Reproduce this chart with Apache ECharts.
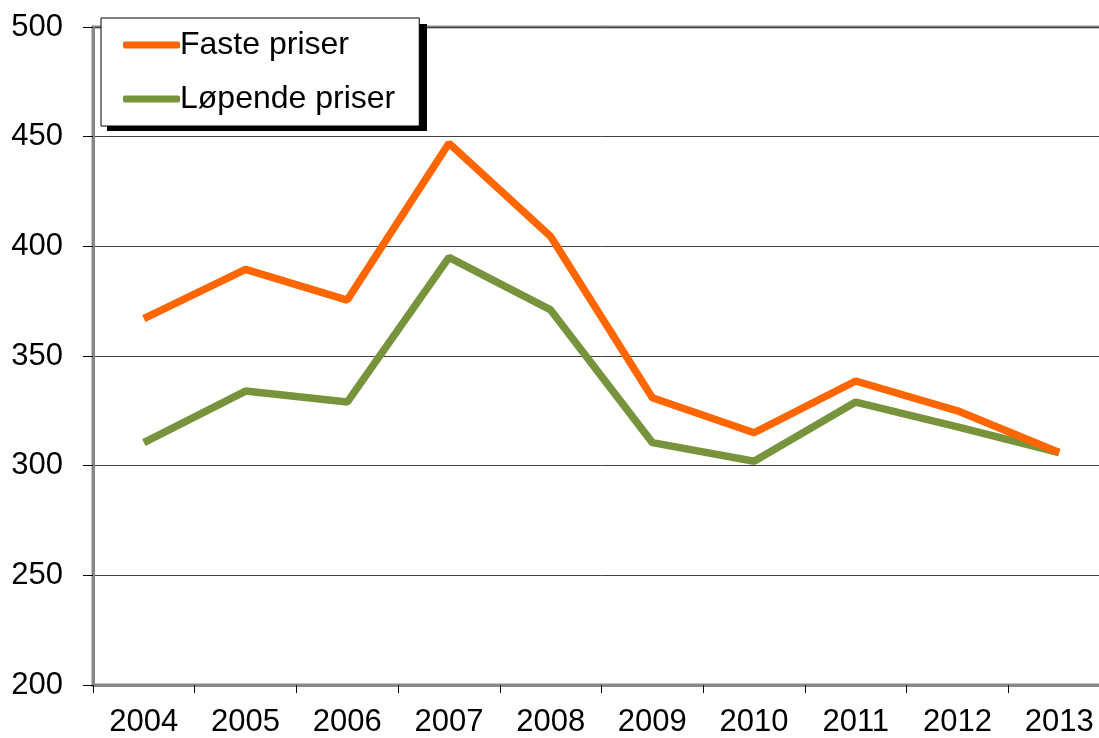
<!DOCTYPE html>
<html><head><meta charset="utf-8">
<script src="https://cdn.jsdelivr.net/npm/echarts@6/dist/echarts.min.js"></script>
<style>html,body{margin:0;padding:0;background:#fff;overflow:hidden;width:1099px;height:738px}#c{width:1110px;height:738px}</style>
</head><body><div id="c"></div>
<script>
const years = ['2004','2005','2006','2007','2008','2009','2010','2011','2012','2013'];
const fastePriser = [367, 389.5, 375.5, 447, 404.5, 331, 315, 338.6, 325, 306];
const lopendePriser = [310.5, 334, 329, 395, 371, 310.5, 302, 329, 317.7, 306];
const yTicks = [200, 250, 300, 350, 400, 450, 500];

const chart = echarts.init(document.getElementById('c'));
const font = 'Liberation Sans, Arial, sans-serif';
chart.setOption({
  animation: false,
  backgroundColor: '#fff',
  grid: { left: 93, top: 27, right: 0, bottom: 51, show: true, borderColor: '#888', borderWidth: 3, backgroundColor: 'transparent', containLabel: false },
  graphic: [
    { type: 'rect', z: 10, zlevel: 0, shape: { x: 107, y: 24, width: 320, height: 107 }, style: { fill: '#000' } }
  ],
  legend: {
    left: 101, top: 18, orient: 'vertical', z: 20,
    backgroundColor: '#fff', borderColor: '#000', borderWidth: 1,
    padding: [11, 24, 11, 22], itemGap: 22, itemWidth: 57, itemHeight: 7,
    icon: 'roundRect',
    textStyle: { fontFamily: font, fontSize: 32, color: '#000', padding: [0, 0, 0, -5] },
    data: ['Faste priser', 'Løpende priser']
  },
  xAxis: {
    type: 'category', data: years, boundaryGap: true,
    axisLine: { show: true, lineStyle: { color: '#888', width: 3 } },
    axisTick: { show: true, length: 8, alignWithLabel: false, lineStyle: { color: '#000', width: 1 } },
    axisLabel: { fontFamily: font, fontSize: 31, color: '#000', margin: 22 },
    splitLine: { show: false }
  },
  yAxis: {
    type: 'value', min: yTicks[0], max: yTicks[yTicks.length - 1], interval: 50,
    axisLine: { show: true, lineStyle: { color: '#888', width: 3 } },
    axisTick: { show: true, length: 10, lineStyle: { color: '#000', width: 1 } },
    axisLabel: { fontFamily: font, fontSize: 31, color: '#000', margin: 30 },
    splitLine: { show: true, lineStyle: { color: '#404040', width: 1 } }
  },
  series: [
    { name: 'Faste priser', type: 'line', data: fastePriser, symbol: 'none', z: 3,
      lineStyle: { color: '#FF6600', width: 7.5 }, itemStyle: { color: '#FF6600' } },
    { name: 'Løpende priser', type: 'line', data: lopendePriser, symbol: 'none', z: 2,
      lineStyle: { color: '#77933C', width: 7.5 }, itemStyle: { color: '#77933C' } }
  ]
});
</script></body></html>
